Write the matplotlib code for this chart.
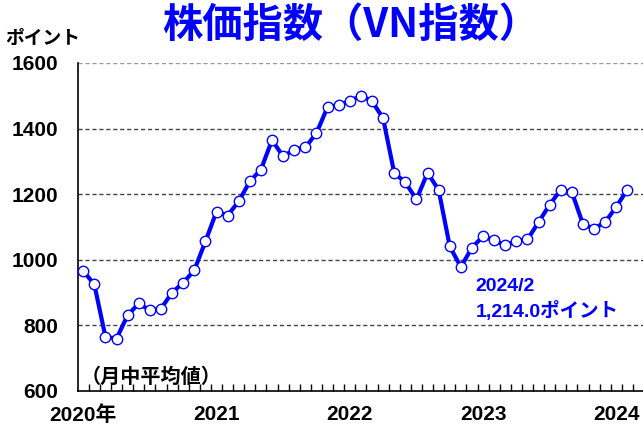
import numpy as np
import matplotlib
matplotlib.use("Agg")
from matplotlib import pyplot as plt

plt.rcParams["font.family"] = ["Liberation Sans", "Noto Sans CJK JP"]
plt.rcParams["font.weight"] = "bold"

# monthly average, Jan 2020 - Feb 2024
vn_index = [
    966, 925, 765, 760, 831, 867, 846, 851, 900, 930, 968, 1056,      # 2020
    1147, 1135, 1178, 1239, 1275, 1365, 1315, 1336, 1343, 1386, 1466, 1472,  # 2021
    1484, 1500, 1484, 1431, 1265, 1236, 1184, 1265, 1213, 1041, 978, 1037,   # 2022
    1072, 1059, 1044, 1057, 1062, 1115, 1168, 1214, 1206, 1108, 1095, 1115,  # 2023
    1162, 1214,                                                      # 2024
]
year_labels = ["2020年", "2021", "2022", "2023", "2024"]
y_ticks = [600, 800, 1000, 1200, 1400, 1600]

blue = "#0000FF"
x = np.arange(len(vn_index))

fig = plt.figure(figsize=(6.43, 4.30), dpi=100)
ax = fig.add_axes([0.1208, 0.0907, 0.8792, 0.7628])

ax.plot(x, vn_index, color=blue, lw=3, marker="o", ms=7.5,
        mfc="white", mec=blue, mew=1.0, zorder=3)

ax.set_xlim(-0.5, 50.4)
ax.set_ylim(600, 1600)

ax.set_yticks(y_ticks)
ax.set_yticklabels([str(v) for v in y_ticks], fontsize=15, fontweight="bold")
ax.tick_params(axis="y", length=0, pad=14)

ax.set_xticks(np.arange(0, len(vn_index), 12))
ax.set_xticklabels(year_labels, fontsize=15, fontweight="bold")
ax.set_xticks(np.arange(0.5, 50.4, 1), minor=True)
ax.tick_params(axis="x", which="major", length=0, pad=10)
ax.tick_params(axis="x", which="minor", direction="in", length=5, width=1)

for v in y_ticks[1:]:
    ax.axhline(v, color="#444444" if v < 1600 else "#999999", lw=1,
               ls=(0, (3, 2)), zorder=1)

ax.spines["top"].set_visible(False)
ax.spines["right"].set_visible(False)
ax.spines["left"].set_linewidth(1.2)
ax.spines["bottom"].set_linewidth(1.2)

fig.text(0.545, 0.94, "株価指数（VN指数）", color=blue, fontsize=29,
         fontweight="bold", ha="center", va="center",
         family=["Noto Sans CJK JP"])
fig.text(0.008, 0.91, "ポイント", fontsize=13.5, fontweight="bold",
         ha="left", va="center", family=["Noto Sans CJK JP"])
ax.text(-0.2, 645, "（月中平均値）", fontsize=14.5, fontweight="bold",
        ha="left", va="center", family=["Noto Sans CJK JP"])
ax.text(35.3, 920, "2024/2", color=blue, fontsize=14, fontweight="bold",
        ha="left", va="center")
ax.text(35.3, 843, "1,214.0ポイント", color=blue, fontsize=14,
        fontweight="bold", ha="left", va="center")

fig.savefig("out.png", dpi=100)
